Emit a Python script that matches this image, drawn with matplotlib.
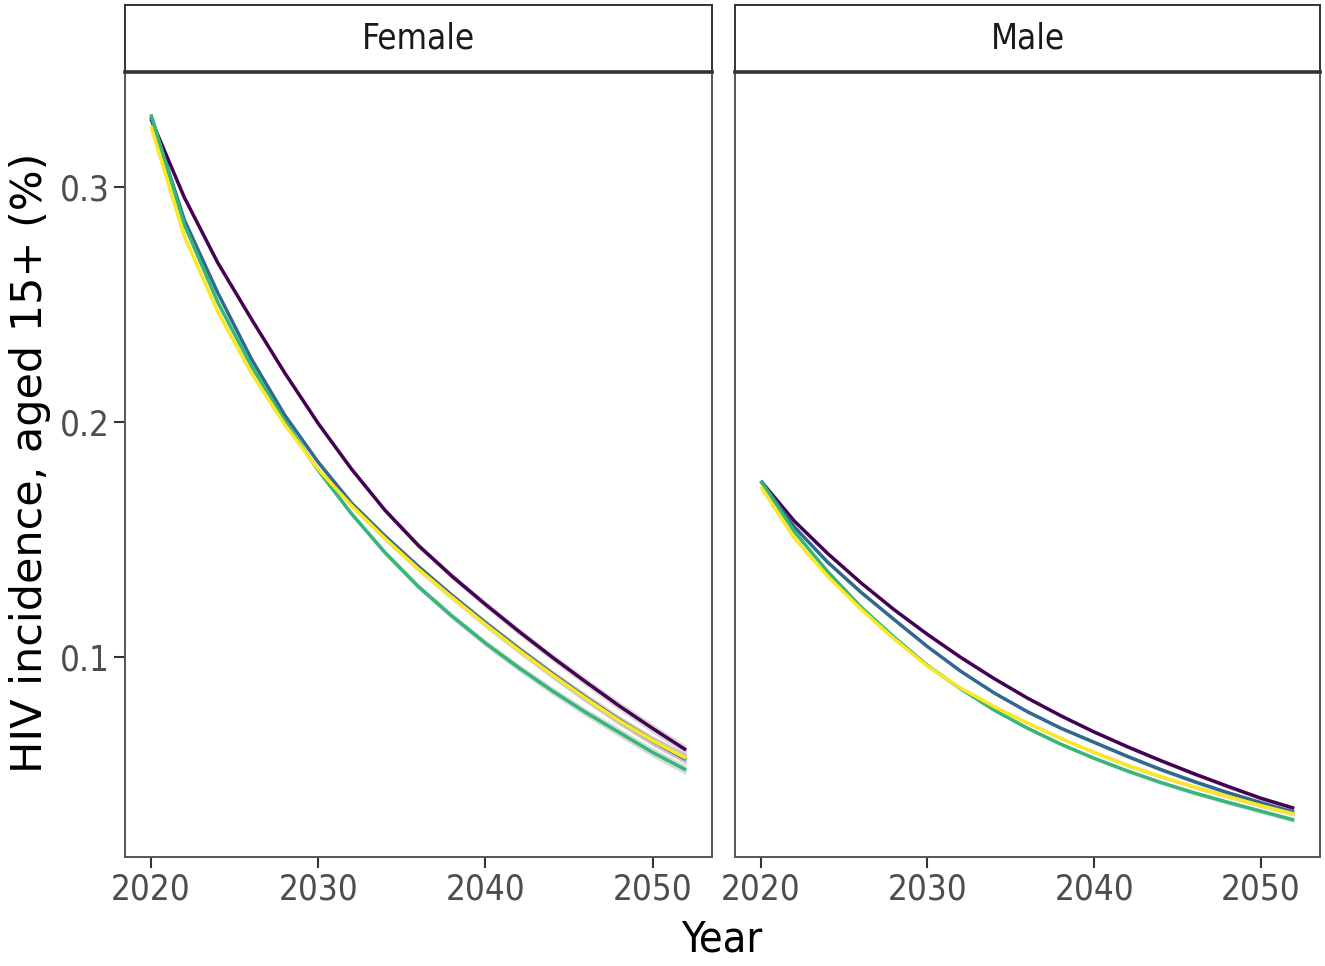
import numpy as np
import matplotlib
matplotlib.use("Agg")
import matplotlib.pyplot as plt

# data (every 2 years)
years = [2020, 2022, 2024, 2026, 2028, 2030, 2032, 2034, 2036, 2038,
         2040, 2042, 2044, 2046, 2048, 2050, 2052]

female_purple = [0.329, 0.2956, 0.2678, 0.2440, 0.2210, 0.1995, 0.1800, 0.1625, 0.1475, 0.1345,
                 0.1225, 0.1110, 0.1000, 0.0895, 0.0793, 0.0697, 0.0605]
female_blue = [0.330, 0.2860, 0.2550, 0.2270, 0.2030, 0.1830, 0.1655, 0.1515, 0.1385, 0.1263,
               0.1147, 0.1036, 0.0930, 0.0829, 0.0733, 0.0644, 0.0565]
female_green = [0.331, 0.2840, 0.2510, 0.2240, 0.2005, 0.1795, 0.1610, 0.1445, 0.1300, 0.1175,
                0.1060, 0.0955, 0.0857, 0.0765, 0.0680, 0.0595, 0.0520]
female_yellow = [0.326, 0.2790, 0.2470, 0.2210, 0.1990, 0.1800, 0.1645, 0.1505, 0.1375, 0.1255,
                 0.1140, 0.1030, 0.0925, 0.0825, 0.0730, 0.0645, 0.0570]

male_purple = [0.175, 0.1580, 0.1442, 0.1317, 0.1202, 0.1097, 0.0999, 0.0909, 0.0826, 0.0751,
               0.0682, 0.0619, 0.0560, 0.0504, 0.0451, 0.0400, 0.0357]
male_blue = [0.175, 0.1555, 0.1405, 0.1277, 0.1160, 0.1045, 0.0940, 0.0848, 0.0768, 0.0698,
             0.0638, 0.0578, 0.0522, 0.0471, 0.0424, 0.0381, 0.0340]
male_green = [0.175, 0.1535, 0.1365, 0.1214, 0.1085, 0.0965, 0.0865, 0.0775, 0.0698, 0.0630,
              0.0570, 0.0516, 0.0467, 0.0423, 0.0383, 0.0345, 0.0307]
male_yellow = [0.1725, 0.1508, 0.1345, 0.1205, 0.1078, 0.0962, 0.0868, 0.0790, 0.0720, 0.0655,
               0.0595, 0.0540, 0.0492, 0.0448, 0.0408, 0.0369, 0.0333]

# half-width of the grey smoothing band
band = [0.0005, 0.0006, 0.0007, 0.0008, 0.0009, 0.001, 0.0011, 0.0012, 0.0013, 0.0014,
        0.0015, 0.0016, 0.0017, 0.0018, 0.0019, 0.002, 0.0021]

panels = ["Female", "Male"]
colors = ["#440154", "#31688E", "#35B779", "#FDE725"]

fig = plt.figure(figsize=(13.25, 9.66), dpi=100)
W, H = 1325.0, 966.0

def box(l, t, r, b):
    return [l / W, 1 - b / H, (r - l) / W, (b - t) / H]

panel_px = [(125, 712), (735, 1320)]
series = [[female_purple, female_blue, female_green, female_yellow],
          [male_purple, male_blue, male_green, male_yellow]]

x = np.array(years)
for i, (l, r) in enumerate(panel_px):
    ax = fig.add_axes(box(l, 72, r, 857))
    for s, c in zip(series[i], colors):
        y = np.array(s)
        hw = np.array(band) * (1.0 if i == 0 else 0.5)
        ax.fill_between(x, y - hw, y + hw, color="#999999", alpha=0.35, lw=0)
        ax.plot(x, y, color=c, lw=2.5, solid_capstyle="butt", solid_joinstyle="round")
    ax.set_xlim(2018.45, 2053.55)
    ax.set_ylim(0.015, 0.349)
    ax.set_xticks([2020, 2030, 2040, 2050])
    ax.set_yticks([0.1, 0.2, 0.3])
    ax.set_yticklabels(["0.1", "0.2", "0.3"])
    if i == 1:
        ax.tick_params(axis="y", left=False, labelleft=False)
    ax.tick_params(length=8, width=1.5, color="#333333", labelcolor="#4D4D4D",
                   labelsize=25, pad=3)
    for t in ax.get_xticklabels() + ax.get_yticklabels():
        t.set_fontstretch("condensed")
    for sp in ax.spines.values():
        sp.set_color("#555555")
        sp.set_linewidth(1.4)

    # facet strip
    st = fig.add_axes(box(l, 5, r, 72))
    st.set_xticks([])
    st.set_yticks([])
    for sp in st.spines.values():
        sp.set_color("#333333")
        sp.set_linewidth(1.4)
    st.spines["bottom"].set_linewidth(2.6)
    st.text(0.5, 0.5, panels[i], ha="center", va="center", fontsize=25,
            color="#1A1A1A", fontstretch="condensed", transform=st.transAxes)

fig.text(30 / W, 1 - 463 / H, "HIV incidence, aged 15+ (%)", rotation=90,
         ha="center", va="center", fontsize=31, color="black")
fig.text(722 / W, 1 - 940 / H, "Year", ha="center", va="center", fontsize=31,
         color="black", fontstretch="condensed")

fig.savefig("out.png", dpi=100, facecolor="white")
